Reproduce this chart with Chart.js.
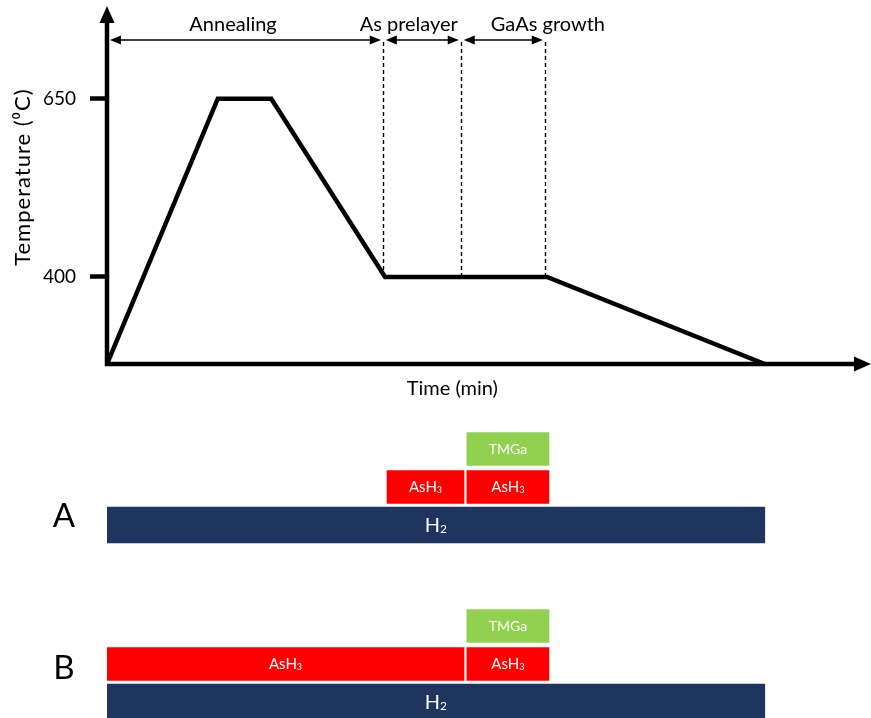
<!DOCTYPE html>
<html>
<head>
<meta charset="utf-8">
<script src="https://cdn.jsdelivr.net/npm/chart.js@4.4.1/dist/chart.umd.min.js"></script>
<style>
  html, body { margin: 0; padding: 0; background: #fff; overflow: hidden; width: 871px; height: 718px; }
  canvas { position: absolute; left: 0; display: block; }
  #tempChart { top: 0; }
  #gasA { top: 430px; }
  #gasB { top: 607px; }
</style>
</head>
<body>
<canvas id="tempChart" width="871" height="400"></canvas>
<canvas id="gasA" width="871" height="114"></canvas>
<canvas id="gasB" width="871" height="114"></canvas>
<script>
// ---------- data (time in arbitrary minutes, temperature in °C) ----------
const tempTime  = [0, 14.5, 21.5, 36.4, 57.6, 86.1];
const tempValue = [278, 650, 650, 400, 400, 278];
const tempTicks = [400, 650];

const phaseNames  = ['Annealing', 'As prelayer', 'GaAs growth'];
const phaseBounds = [0, 36.1, 46.3, 57.3];

const gasRows   = ['TMGa', 'AsH₃', 'H₂'];
const tmgaFlow  = [47.1, 57.85];
const ash3FlowA = [[36.65, 46.73], [47.1, 57.85]];
const ash3FlowB = [[0, 46.73], [47.1, 57.85]];
const h2Flow    = [0, 86.1];

const FONT = 'Lato, "Open Sans", sans-serif';

function drawTri(ctx, tx, ty, dir, len, half) {
  ctx.beginPath();
  ctx.moveTo(tx, ty);
  if (dir === 'up')    { ctx.lineTo(tx - half, ty + len); ctx.lineTo(tx + half, ty + len); }
  if (dir === 'right') { ctx.lineTo(tx - len, ty - half); ctx.lineTo(tx - len, ty + half); }
  if (dir === 'left')  { ctx.lineTo(tx + len, ty - half); ctx.lineTo(tx + len, ty + half); }
  ctx.closePath();
  ctx.fill();
}

// draw a label, rendering a trailing Unicode subscript digit as a smaller lowered digit
function drawChem(ctx, text, cx, cy, size) {
  const last = text.charCodeAt(text.length - 1);
  let main = text, sub = '';
  if (last >= 0x2080 && last <= 0x2089) {
    main = text.slice(0, -1);
    sub = String.fromCharCode(last - 0x2080 + 48);
  }
  const subSize = Math.round(size * 0.62);
  ctx.font = size + 'px ' + FONT;
  const wMain = ctx.measureText(main).width;
  ctx.font = subSize + 'px ' + FONT;
  const wSub = sub ? ctx.measureText(sub).width : 0;
  const x0 = cx - (wMain + wSub) / 2;
  ctx.textAlign = 'left';
  ctx.textBaseline = 'alphabetic';
  const base = cy + size * 0.36;
  ctx.font = size + 'px ' + FONT;
  ctx.fillText(main, x0, base);
  if (sub) {
    ctx.font = subSize + 'px ' + FONT;
    ctx.fillText(sub, x0 + wMain, base + size * 0.06);
  }
}

const decor = {
  id: 'decor',
  afterDatasetsDraw(chart, args, o) {
    const { ctx, chartArea: ca, scales: { x, y } } = chart;
    ctx.save();
    ctx.fillStyle = '#000';
    ctx.strokeStyle = '#000';
    // axes with arrowheads
    ctx.lineWidth = 4.5;
    ctx.lineCap = 'butt';
    ctx.beginPath(); ctx.moveTo(ca.left, ca.bottom + 2); ctx.lineTo(ca.left, ca.top + 12); ctx.stroke();
    ctx.beginPath(); ctx.moveTo(ca.left - 2, ca.bottom); ctx.lineTo(ca.right - 12, ca.bottom); ctx.stroke();
    drawTri(ctx, ca.left, ca.top, 'up', 17, 7.5);
    drawTri(ctx, ca.right, ca.bottom, 'right', 17, 7.5);

    // dashed phase boundaries
    const yTop = ca.top + o.arrowOffset;
    const yBase = y.getPixelForValue(tempTicks[0]);
    ctx.lineWidth = 1.4;
    ctx.setLineDash([4, 3]);
    for (let i = 1; i < phaseBounds.length; i++) {
      const px = Math.round(x.getPixelForValue(phaseBounds[i])) + 0.5;
      ctx.beginPath(); ctx.moveTo(px, yTop + 2); ctx.lineTo(px, yBase); ctx.stroke();
    }
    ctx.setLineDash([]);

    // double-headed phase arrows + labels
    ctx.lineWidth = 1.5;
    ctx.font = '20px ' + FONT;
    ctx.textAlign = 'center';
    ctx.textBaseline = 'alphabetic';
    for (let i = 0; i < phaseNames.length; i++) {
      const x0 = x.getPixelForValue(phaseBounds[i]) + 3;
      const x1 = x.getPixelForValue(phaseBounds[i + 1]) - 2;
      ctx.beginPath(); ctx.moveTo(x0 + 4, yTop); ctx.lineTo(x1 - 4, yTop); ctx.stroke();
      drawTri(ctx, x0, yTop, 'left', 11, 4.5);
      drawTri(ctx, x1, yTop, 'right', 11, 4.5);
      ctx.fillText(phaseNames[i], x.getPixelForValue(o.labelAt[i]), yTop - 9);
    }

    // axis titles
    ctx.textBaseline = 'middle';
    ctx.font = '20px ' + FONT;
    ctx.fillText('Time (min)', x.getPixelForValue(o.xTitleAt), ca.bottom + 25);
    ctx.save();
    ctx.translate(23, y.getPixelForValue(o.yTitleAt));
    ctx.rotate(-Math.PI / 2);
    ctx.font = '22px ' + FONT;
    try { ctx.letterSpacing = '1px'; } catch (e) {}
    ctx.fillText('Temperature (⁰C)', 0, 0);
    ctx.restore();
    ctx.restore();
  }
};

new Chart(document.getElementById('tempChart'), {
  type: 'scatter',
  data: {
    datasets: [{
      data: tempTime.map((t, i) => ({ x: t, y: tempValue[i] })),
      showLine: true,
      borderColor: '#000',
      borderWidth: 4.5,
      borderJoinStyle: 'miter',
      pointRadius: 0,
      tension: 0,
      fill: false
    }]
  },
  options: {
    responsive: false,
    animation: false,
    events: [],
    layout: { padding: { top: 6, right: 0, bottom: 0, left: 0 } },
    plugins: {
      legend: { display: false },
      tooltip: { enabled: false },
      decor: { arrowOffset: 34, labelAt: [16.5, 39.5, 57.7], xTitleAt: 45.2, yTitleAt: 540 }
    },
    scales: {
      x: {
        type: 'linear', min: 0, max: 100,
        grid: { display: false },
        border: { display: false },
        ticks: { display: false },
        afterFit(s) { s.height = 36; s.paddingLeft = 0; s.paddingRight = 0; }
      },
      y: {
        type: 'linear', min: 278, max: 780,
        afterBuildTicks(s) { s.ticks = tempTicks.map(v => ({ value: v })); },
        grid: { drawOnChartArea: false, drawTicks: true, tickLength: 17, tickWidth: 4.5, tickColor: '#000' },
        border: { display: false },
        ticks: { color: '#000', font: { family: FONT, size: 19 }, padding: 14 },
        afterFit(s) { s.width = 107; s.paddingTop = 0; s.paddingBottom = 0; }
      }
    }
  },
  plugins: [decor]
});

const barText = {
  id: 'barText',
  afterDatasetsDraw(chart, args, o) {
    const { ctx } = chart;
    ctx.save();
    ctx.fillStyle = '#fff';
    chart.data.datasets.forEach((ds, di) => {
      const meta = chart.getDatasetMeta(di);
      meta.data.forEach((el, i) => {
        if (ds.data[i] == null) return;
        const { x, base, y } = el.getProps(['x', 'base', 'y'], true);
        drawChem(ctx, ds.label, (x + base) / 2, y, ds.labelSize);
      });
    });
    ctx.fillStyle = '#000';
    ctx.font = '33px ' + FONT;
    ctx.textAlign = 'center';
    ctx.textBaseline = 'middle';
    ctx.fillText(o.letter, o.letterX, chart.scales.y.getPixelForValue(o.letterRow) + 1);
    ctx.restore();
  }
};

function gasChart(id, ash3Segs, letter, letterRow) {
  return new Chart(document.getElementById(id), {
    type: 'bar',
    data: {
      labels: gasRows,
      datasets: [
        { label: gasRows[0], data: [tmgaFlow, null, null], backgroundColor: '#92d050', barThickness: 33, labelSize: 14 },
        { label: gasRows[1], data: [null, ash3Segs[0], null], backgroundColor: '#ff0000', barThickness: 33, labelSize: 15 },
        { label: gasRows[1], data: [null, ash3Segs[1], null], backgroundColor: '#ff0000', barThickness: 33, labelSize: 15 },
        { label: gasRows[2], data: [null, null, h2Flow], backgroundColor: '#1f3560', barThickness: 36, labelSize: 20 }
      ]
    },
    options: {
      indexAxis: 'y',
      responsive: false,
      animation: false,
      events: [],
      layout: { padding: { left: 107, right: 0, top: 0, bottom: 0 } },
      datasets: { bar: { grouped: false } },
      scales: {
        x: { type: 'linear', min: 0, max: 100, display: false },
        y: { display: false }
      },
      plugins: {
        legend: { display: false },
        tooltip: { enabled: false },
        barText: { letter: letter, letterX: 64, letterRow: letterRow }
      }
    },
    plugins: [barText]
  });
}

gasChart('gasA', ash3FlowA, 'A', 1.75);
gasChart('gasB', ash3FlowB, 'B', 1.1);
</script>
</body>
</html>
